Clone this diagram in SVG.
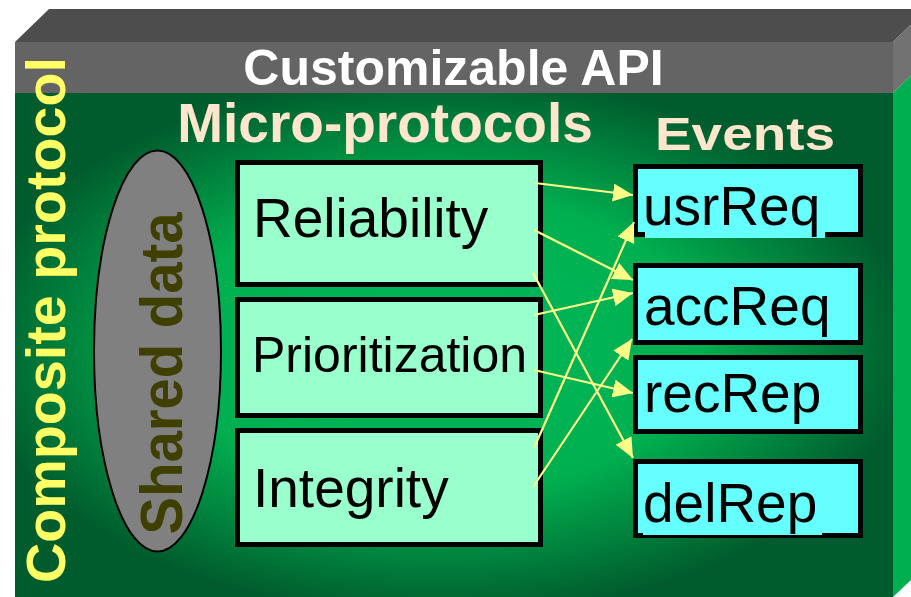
<svg xmlns="http://www.w3.org/2000/svg" width="911" height="597" viewBox="0 0 911 597">
  <defs>
    <radialGradient id="frontGlow" gradientUnits="userSpaceOnUse" cx="440" cy="345" r="470" gradientTransform="translate(440 345) scale(1 0.575) translate(-440 -345)">
      <stop offset="0" stop-color="#00b85a"/>
      <stop offset="0.55" stop-color="#00b050"/>
      <stop offset="1" stop-color="#005c2d"/>
    </radialGradient>
    <marker id="head" markerUnits="userSpaceOnUse" markerWidth="20" markerHeight="18" refX="20" refY="9" orient="auto" viewBox="0 0 20 18">
      <path d="M0,0 L20,9 L0,18 z" fill="#ffff88"/>
    </marker>
  </defs>
  <style>
    text { font-family: "Liberation Sans", Arial, Helvetica, sans-serif; }
    .title { font-weight: bold; }
    .proto rect { fill: #99ffcc; stroke: #000; stroke-width: 5; }
    .event rect.box { fill: #66ffff; stroke: #000; stroke-width: 5; }
    .event rect.bg { fill: #66ffff; }
    .label { font-size: 55px; fill: #000; }
    .label.narrow { font-size: 50px; }
    .evlabel { font-size: 55px; fill: #000; }
    .wire line { stroke: #ffff88; stroke-width: 2.2; marker-end: url(#head); }
  </style>

  <!-- 3D box: front face, API band, top and right side -->
  <g id="box">
    <rect x="15" y="93" width="878" height="504" fill="url(#frontGlow)"/>
    <rect x="15" y="42" width="878" height="51" fill="#646464"/>
    <polygon points="15,42 49,9 911,9 911,24.5 893,42" fill="#4d4d4d"/>
    <polygon points="893,42 911,24.5 911,75.5 893,93" fill="#727272"/>
    <polygon points="893,93 911,75.5 911,580 893,597" fill="#00b050"/>
  </g>

  <text class="title" x="453.5" y="85" font-size="50" fill="#ffffff" text-anchor="middle">Customizable API</text>
  <text class="title" x="385" y="142" font-size="55" fill="#ffe6cc" text-anchor="middle">Micro-protocols</text>
  <text class="title" x="745" y="150" font-size="47" fill="#ffe6cc" text-anchor="middle" textLength="180" lengthAdjust="spacingAndGlyphs">Events</text>
  <text class="title" transform="translate(65,583) rotate(-90)" font-size="56" fill="#ffff66" textLength="526" lengthAdjust="spacingAndGlyphs">Composite protocol</text>

  <g id="shared-data">
    <ellipse cx="157.5" cy="351" rx="63.5" ry="200.5" fill="#808080" stroke="#000" stroke-width="2"/>
    <text class="title" transform="translate(182,373.5) rotate(-90)" font-size="60" fill="#3f3f00" text-anchor="middle" textLength="322" lengthAdjust="spacingAndGlyphs">Shared data</text>
  </g>

  <g id="reliability" class="proto">
    <rect x="237.5" y="162.5" width="303" height="122"/>
    <text class="label" x="253" y="237">Reliability</text>
  </g>
  <g id="prioritization" class="proto">
    <rect x="237.5" y="299.5" width="303" height="116"/>
    <text class="label narrow" x="252" y="372">Prioritization</text>
  </g>
  <g id="integrity" class="proto">
    <rect x="237.5" y="430.5" width="303" height="114"/>
    <text class="label" x="253" y="507">Integrity</text>
  </g>

  <g id="usrReq" class="event">
    <rect class="box" x="635.5" y="166.5" width="225" height="68"/>
    <rect class="bg" x="645" y="178" width="180" height="60"/>
    <text class="evlabel" x="643" y="225">usrReq</text>
  </g>
  <g id="accReq" class="event">
    <rect class="box" x="635.5" y="265.5" width="225" height="77"/>
    <text class="evlabel" x="644" y="325">accReq</text>
  </g>
  <g id="recRep" class="event">
    <rect class="box" x="635.5" y="357.5" width="225" height="74"/>
    <text class="evlabel" x="644" y="412">recRep</text>
  </g>
  <g id="delRep" class="event">
    <rect class="box" x="635.5" y="461.5" width="225" height="74"/>
    <rect class="bg" x="643" y="475" width="179" height="60"/>
    <text class="evlabel" x="643" y="522">delRep</text>
  </g>

  <g id="connectors" class="wire">
    <line x1="535" y1="183" x2="633" y2="195"/>
    <line x1="534" y1="230" x2="633" y2="280"/>
    <line x1="533" y1="273" x2="633" y2="458"/>
    <line x1="534" y1="315" x2="633" y2="293"/>
    <line x1="534" y1="370" x2="633" y2="393"/>
    <line x1="534" y1="448" x2="634" y2="222"/>
    <line x1="533" y1="487" x2="632" y2="339"/>
  </g>
</svg>
